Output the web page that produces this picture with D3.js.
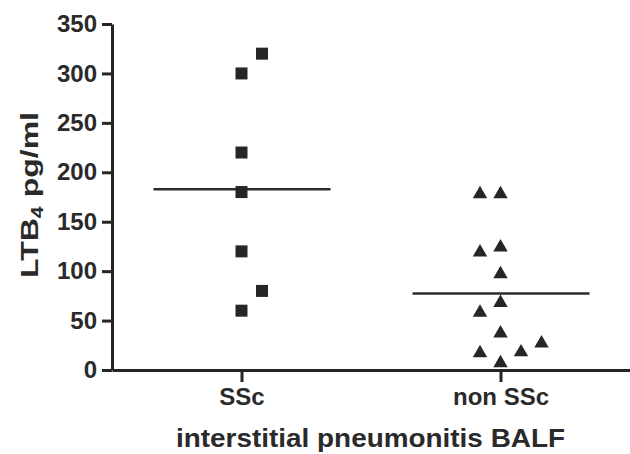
<!DOCTYPE html>
<html>
<head>
<meta charset="utf-8">
<script src="https://cdn.jsdelivr.net/npm/d3@7/dist/d3.min.js"></script>
<style>
  html, body { margin: 0; padding: 0; background: #fff; }
  svg { display: block; }
  text { font-family: "Liberation Sans", Arial, Helvetica, sans-serif; font-weight: bold; fill: #2a2a2a; }
</style>
</head>
<body>
<script>
// ---- data ----
const categories = ["SSc", "non SSc"];
const sscValues = [320, 300, 220, 180, 120, 80, 60];
const nonSscValues = [178, 178, 124, 119, 97, 68, 58, 37, 27, 18, 17, 7];
const yTickValues = [0, 50, 100, 150, 200, 250, 300, 350];
const xAxisTitle = "interstitial pneumonitis BALF";
const yAxisTitleMain = "LTB";
const yAxisTitleSub = "4";
const yAxisTitleUnit = " pg/ml";

// ---- layout ----
const W = 630, H = 454;
const svg = d3.select("body").append("svg").attr("width", W).attr("height", H);

const x = d3.scalePoint().domain(categories).range([112, 630]).padding(0.5);
const y = d3.scaleLinear().domain([0, 350]).range([370, 24]);

const ink = "#252525";

// dodge points horizontally when they crowd each other
function dodge(values, tol, side) {
  const order = d3.range(values.length).sort((a, b) => values[a] - values[b]);
  const slotOrder = [0, side, -side, 2, -2, 3, -3];
  const placed = [];
  const slot = new Array(values.length);
  for (const i of order) {
    for (const s of slotOrder) {
      if (!placed.some(p => p.s === s && Math.abs(p.v - values[i]) < tol)) {
        slot[i] = s; placed.push({ s, v: values[i] }); break;
      }
    }
  }
  return slot;
}
const slotW = 20.5;

// ---- axes ----
const yAxis = d3.axisLeft(y).tickValues(yTickValues).tickSize(10).tickSizeOuter(0).tickPadding(5);
const gy = svg.append("g").attr("transform", "translate(112,0)").call(yAxis);
gy.select(".domain").attr("stroke", ink).attr("stroke-width", 3);
gy.selectAll(".tick line").attr("stroke", ink).attr("stroke-width", 3);
gy.selectAll(".tick text").attr("font-size", 24).attr("font-family", null).attr("fill", "#2a2a2a").attr("font-weight", "bold");

const xAxis = d3.axisBottom(x).tickSize(12).tickSizeOuter(0).tickPadding(6);
const gx = svg.append("g").attr("transform", "translate(0,370)").call(xAxis);
gx.select(".domain").attr("stroke", ink).attr("stroke-width", 3);
gx.selectAll(".tick line").attr("stroke", ink).attr("stroke-width", 3);
gx.selectAll(".tick text").attr("font-size", 24).attr("font-family", null).attr("fill", "#2a2a2a").attr("font-weight", "bold");

// ---- axis titles ----
svg.append("text")
  .attr("x", (112 + 630) / 2 - 0.5).attr("y", 447)
  .attr("text-anchor", "middle")
  .attr("font-size", 25)
  .attr("textLength", 389).attr("lengthAdjust", "spacingAndGlyphs")
  .text(xAxisTitle);

const yt = svg.append("text")
  .attr("transform", "translate(38,195) rotate(-90)")
  .attr("text-anchor", "middle")
  .attr("font-size", 24)
  .attr("textLength", 166).attr("lengthAdjust", "spacingAndGlyphs");
yt.append("tspan").text(yAxisTitleMain);
yt.append("tspan").attr("font-size", 16).attr("dy", 5).text(yAxisTitleSub);
yt.append("tspan").attr("dy", -5).text(yAxisTitleUnit);

// ---- points ----
const groups = [
  { cat: categories[0], values: sscValues, symbol: d3.symbolSquare, size: 144 },
  { cat: categories[1], values: nonSscValues, symbol: d3.symbolTriangle, size: 90 }
];

groups.forEach((g, gi) => {
  const slots = dodge(g.values, 24, gi % 2 === 0 ? 1 : -1);
  const cx = x(g.cat);
  // mean line
  const m = d3.mean(g.values);
  svg.append("line")
    .attr("x1", cx - 88).attr("x2", cx + 89)
    .attr("y1", y(m)).attr("y2", y(m))
    .attr("stroke", "#2c2c2c").attr("stroke-width", 2.5);
  svg.append("g").selectAll("path").data(g.values).join("path")
    .attr("d", d3.symbol().type(g.symbol).size(g.size))
    .attr("transform", (d, i) => `translate(${cx + slots[i] * slotW},${y(d)})`)
    .attr("fill", "#262626");
});
</script>
</body>
</html>
